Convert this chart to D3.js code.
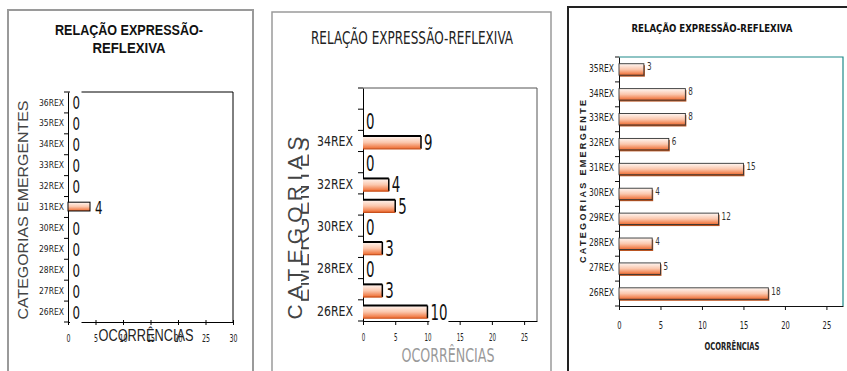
<!DOCTYPE html>
<html>
<head>
<meta charset="utf-8">
<script src="https://cdn.jsdelivr.net/npm/d3@7"></script>
<style>
  html, body { margin: 0; padding: 0; background: #fff; }
  svg { display: block; }
</style>
</head>
<body>
<svg id="chart" width="847" height="371"></svg>
<script>
// ---- data ----
const titleLinesA = ["RELAÇÃO EXPRESSÃO-", "REFLEXIVA"];
const titleText = "RELAÇÃO EXPRESSÃO-REFLEXIVA";
const xTitle = "OCORRÊNCIAS";
const yTitleA = "CATEGORIAS EMERGENTES";
const yTitleB = ["CATEGORIAS", "EMERGENTES"];
const yTitleC = "CATEGORIAS EMERGENTE";

const categoriesA = ["26REX","27REX","28REX","29REX","30REX","31REX","32REX","33REX","34REX","35REX","36REX"];
const valuesA     = [0, 0, 0, 0, 0, 4, 0, 0, 0, 0, 0];
const xTicksA     = [0, 5, 10, 15, 20, 25, 30];

const categoriesB = ["26REX","27REX","28REX","29REX","30REX","31REX","32REX","33REX","34REX","35REX","36REX"];
const valuesB     = [10, 3, 0, 3, 0, 5, 4, 0, 9, 0, null];
const yTickLabelsB = ["26REX","28REX","30REX","32REX","34REX"];
const xTicksB     = [0, 5, 10, 15, 20, 25];

const categoriesC = ["26REX","27REX","28REX","29REX","30REX","31REX","32REX","33REX","34REX","35REX"];
const valuesC     = [18, 5, 4, 12, 4, 15, 6, 8, 8, 3];
const xTicksC     = [0, 5, 10, 15, 20, 25];

// ---- shared styling ----
const SANS = "'Liberation Sans', Arial, sans-serif";
const NARROW = "'Liberation Sans Narrow', 'DejaVu Sans Condensed', 'Arial Narrow', sans-serif";

const svg = d3.select("#chart");
const defs = svg.append("defs");
const grad = defs.append("linearGradient").attr("id", "barFill")
  .attr("x1", 0).attr("y1", 0).attr("x2", 0).attr("y2", 1);
grad.append("stop").attr("offset", "0%").attr("stop-color", "#fff7f3");
grad.append("stop").attr("offset", "50%").attr("stop-color", "#fbc7ad");
grad.append("stop").attr("offset", "100%").attr("stop-color", "#ee6a2e");

function bandEdges(y, cats) {
  return cats.map(c => y(c)).concat([y(cats[0]) + y.bandwidth()]);
}
// squeeze a string to a given width per character
function narrow(sel, perChar) {
  sel.each(function () {
    const n = (this.textContent || "").length;
    if (n) d3.select(this).attr("textLength", n * perChar).attr("lengthAdjust", "spacingAndGlyphs");
  });
}

// ================= Panel A =================
(function () {
  const p = svg.append("g");
  p.append("rect").attr("x", 8).attr("y", 10).attr("width", 245).attr("height", 400)
    .attr("fill", "#fff").attr("stroke", "#9a9a9a").attr("stroke-width", 2);

  const x = d3.scaleLinear().domain([0, 30]).range([68, 233]);
  const y = d3.scaleBand().domain(categoriesA).range([322, 92]);
  const [x0, x1] = x.range();
  const [yb, yt] = y.range();

  // title, two lines
  const widthsA = [148, 73];
  titleLinesA.forEach((s, i) => p.append("text").attr("x", 129).attr("y", 35 + i * 18)
    .attr("text-anchor", "middle").attr("font-family", SANS).attr("font-weight", "bold")
    .attr("font-size", 14).attr("fill", "#111")
    .attr("textLength", widthsA[i]).attr("lengthAdjust", "spacingAndGlyphs").text(s));

  // plot frame (top + right)
  p.append("path").attr("d", `M${x0},${yt}H${x1}V${yb}`).attr("fill", "none").attr("stroke", "#000");

  // x axis
  const xa = p.append("g").attr("transform", `translate(0,${yb})`)
    .call(d3.axisBottom(x).tickValues(xTicksA).tickSize(3).tickSizeOuter(0));
  xa.select(".domain").attr("stroke", "#000");
  xa.selectAll(".tick line").attr("y1", -2).attr("stroke", "#000");
  xa.selectAll(".tick text").attr("y", 20).attr("dy", 0)
    .attr("font-family", NARROW).attr("font-size", 10).attr("fill", "#222").call(narrow, 4);

  // y axis
  const ya = p.append("g").attr("transform", `translate(${x0},0)`)
    .call(d3.axisLeft(y).tickSize(0).tickPadding(4).tickSizeOuter(0));
  ya.select(".domain").attr("stroke", "#000");
  ya.selectAll(".tick text").attr("font-family", NARROW).attr("font-size", 9.5)
    .attr("fill", "#222").attr("textLength", 25).attr("lengthAdjust", "spacingAndGlyphs");
  p.selectAll("line.bt").data(bandEdges(y, categoriesA)).join("line").attr("class", "bt")
    .attr("x1", x0 - 4).attr("x2", x0).attr("y1", d => d).attr("y2", d => d).attr("stroke", "#000");

  // bars
  const bw = y.bandwidth();
  categoriesA.forEach((c, i) => {
    const v = valuesA[i];
    if (v > 0) {
      p.append("rect").attr("x", x(0)).attr("y", y(c) + bw * 0.27)
        .attr("width", x(v) - x(0)).attr("height", bw * 0.42)
        .attr("fill", "url(#barFill)").attr("stroke", "#000").attr("stroke-width", 1);
    }
  });
  // value labels on white boxes
  categoriesA.forEach((c, i) => {
    const v = valuesA[i];
    const cy = y(c) + bw / 2;
    const lx = x(v) + (v > 0 ? 5 : 4.5);
    p.append("rect").attr("x", lx - 2.5).attr("y", cy - 12.5).attr("width", 11.5).attr("height", 25).attr("fill", "#fff");
    p.append("text").attr("x", lx).attr("y", cy + 7).attr("font-family", NARROW)
      .attr("font-size", 18).attr("fill", "#111").text(v).call(narrow, 7.5);
  });

  // axis titles
  p.append("text").attr("transform", `translate(28,${(yt + yb) / 2 + 3}) rotate(-90)`)
    .attr("text-anchor", "middle").attr("font-family", SANS).attr("font-size", 14)
    .attr("fill", "#444").attr("textLength", 219).attr("lengthAdjust", "spacingAndGlyphs").text(yTitleA);
  p.append("text").attr("x", 146).attr("y", 341).attr("text-anchor", "middle")
    .attr("font-family", SANS).attr("font-size", 16).attr("fill", "#222")
    .attr("textLength", 95).attr("lengthAdjust", "spacingAndGlyphs").text(xTitle);
})();

// ================= Panel B =================
(function () {
  const p = svg.append("g");
  p.append("rect").attr("x", 272).attr("y", 12).attr("width", 279).attr("height", 400)
    .attr("fill", "#fff").attr("stroke", "#9a9a9a").attr("stroke-width", 1.5);

  const x = d3.scaleLinear().domain([0, 27]).range([363, 537]);
  const y = d3.scaleBand().domain(categoriesB).range([321, 88]);
  const [x0, x1] = x.range();
  const [yb, yt] = y.range();

  // title
  p.append("text").attr("x", 412).attr("y", 44).attr("text-anchor", "middle")
    .attr("font-family", NARROW).attr("font-size", 17).attr("fill", "#222")
    .attr("textLength", 202).attr("lengthAdjust", "spacingAndGlyphs").text(titleText);

  // frame
  p.append("path").attr("d", `M${x0},${yt}H${x1}V${yb}`).attr("fill", "none").attr("stroke", "#555");

  // x axis
  const xa = p.append("g").attr("transform", `translate(0,${yb})`)
    .call(d3.axisBottom(x).tickValues(xTicksB).tickSize(4).tickSizeOuter(0));
  xa.select(".domain").attr("stroke", "#000");
  xa.selectAll(".tick line").attr("stroke", "#000");
  xa.selectAll(".tick text").attr("y", 20).attr("dy", 0)
    .attr("font-family", NARROW).attr("font-size", 10).attr("fill", "#222").call(narrow, 3.5);

  // y axis (every other category labelled)
  const ya = p.append("g").attr("transform", `translate(${x0},0)`)
    .call(d3.axisLeft(y).tickSize(0).tickPadding(10).tickSizeOuter(0)
      .tickFormat(d => yTickLabelsB.includes(d) ? d : ""));
  ya.select(".domain").attr("stroke", "#000");
  ya.selectAll(".tick text").attr("font-family", NARROW).attr("font-size", 14)
    .attr("fill", "#222").attr("dy", "0.38em");
  ya.selectAll(".tick text").filter(d => yTickLabelsB.includes(d))
    .attr("textLength", 36).attr("lengthAdjust", "spacingAndGlyphs");
  p.selectAll("line.bt").data(bandEdges(y, categoriesB)).join("line").attr("class", "bt")
    .attr("x1", x0 - 5).attr("x2", x0).attr("y1", d => d).attr("y2", d => d).attr("stroke", "#000");

  // bars
  const bw = y.bandwidth();
  categoriesB.forEach((c, i) => {
    const v = valuesB[i];
    if (v > 0) {
      const by = y(c) + bw * 0.27, bh = bw * 0.6, w = x(v) - x(0);
      p.append("rect").attr("x", x(0)).attr("y", by).attr("width", w).attr("height", bh)
        .attr("fill", "url(#barFill)");
      p.append("line").attr("x1", x(0)).attr("x2", x(v)).attr("y1", by).attr("y2", by)
        .attr("stroke", "#000").attr("stroke-width", 2);
      p.append("line").attr("x1", x(v)).attr("x2", x(v)).attr("y1", by).attr("y2", by + bh)
        .attr("stroke", "#000").attr("stroke-width", 1.5);
      p.append("line").attr("x1", x(0)).attr("x2", x(v)).attr("y1", by + bh).attr("y2", by + bh)
        .attr("stroke", "#c8501c").attr("stroke-width", 1.2);
    }
  });
  categoriesB.forEach((c, i) => {
    const v = valuesB[i];
    if (v === null) return;
    const lx = x(v) + 3, base = y(c) + bw - 1.5;
    const lbl = p.append("text").attr("x", lx).attr("y", base).attr("font-family", NARROW)
      .attr("font-size", 21).attr("fill", "#111").text(v).call(narrow, 8.5);
    const bb = lbl.node().getBBox();
    p.insert("rect", () => lbl.node()).attr("x", bb.x - 1).attr("y", bb.y + 2)
      .attr("width", bb.width + 2).attr("height", bb.height - 2).attr("fill", "#fff");
  });

  // two stacked vertical axis-title words drawn on top of each other
  const yc = 228;
  p.append("text").attr("transform", `translate(302,${yc}) rotate(-90)`)
    .attr("text-anchor", "middle").attr("font-family", SANS).attr("font-size", 21)
    .attr("fill", "#444").attr("textLength", 183).attr("lengthAdjust", "spacing").text(yTitleB[0]);
  defs.append("clipPath").attr("id", "clipB").append("rect")
    .attr("x", 301).attr("y", 120).attr("width", 8).attr("height", 200);
  p.append("g").attr("clip-path", "url(#clipB)")
    .append("text").attr("transform", `translate(309,${yc - 8}) rotate(-90)`)
    .attr("text-anchor", "middle").attr("font-family", SANS).attr("font-size", 21)
    .attr("fill", "#444").attr("textLength", 165).attr("lengthAdjust", "spacing").text(yTitleB[1]);

  p.append("text").attr("x", 448).attr("y", 362).attr("text-anchor", "middle")
    .attr("font-family", NARROW).attr("font-size", 20).attr("fill", "#9a9a9a")
    .attr("textLength", 93).attr("lengthAdjust", "spacingAndGlyphs").text(xTitle);
})();

// ================= Panel C =================
(function () {
  const p = svg.append("g");
  p.append("rect").attr("x", 568).attr("y", 7).attr("width", 300).attr("height", 400)
    .attr("fill", "#fff").attr("stroke", "#222").attr("stroke-width", 2);

  const x = d3.scaleLinear().domain([0, 27]).range([619, 843]);
  const y = d3.scaleBand().domain(categoriesC).range([306, 57]);
  const [x0, x1] = x.range();
  const [yb, yt] = y.range();

  p.append("text").attr("x", 712).attr("y", 32).attr("text-anchor", "middle")
    .attr("font-family", NARROW).attr("font-weight", "bold").attr("font-size", 11)
    .attr("fill", "#111").attr("textLength", 161).attr("lengthAdjust", "spacingAndGlyphs").text(titleText);

  // frame (teal top + right)
  p.append("path").attr("d", `M${x0},${yt}H${x1}V${yb}`).attr("fill", "none")
    .attr("stroke", "#1f8a8a").attr("stroke-width", 1.2);

  const xa = p.append("g").attr("transform", `translate(0,${yb})`)
    .call(d3.axisBottom(x).tickValues(xTicksC).tickSize(4).tickSizeOuter(0));
  xa.select(".domain").attr("stroke", "#111");
  xa.selectAll(".tick line").attr("stroke", "#111");
  xa.selectAll(".tick text").attr("y", 23).attr("dy", 0)
    .attr("font-family", NARROW).attr("font-size", 11).attr("fill", "#222").call(narrow, 4.3);

  const ya = p.append("g").attr("transform", `translate(${x0},0)`)
    .call(d3.axisLeft(y).tickSize(0).tickPadding(5).tickSizeOuter(0));
  ya.select(".domain").attr("stroke", "#111");
  ya.selectAll(".tick text").attr("font-family", NARROW).attr("font-size", 11)
    .attr("fill", "#222").attr("dy", "0.2em").attr("textLength", 25).attr("lengthAdjust", "spacingAndGlyphs");
  p.selectAll("line.bt").data(bandEdges(y, categoriesC)).join("line").attr("class", "bt")
    .attr("x1", x0 - 4).attr("x2", x0).attr("y1", d => d).attr("y2", d => d).attr("stroke", "#111");

  const bw = y.bandwidth();
  categoriesC.forEach((c, i) => {
    const v = valuesC[i];
    const bh = bw * 0.46, by = y(c) + (bw - bh) / 2, w = x(v) - x(0);
    p.append("rect").attr("x", x(0) + 1).attr("y", by + 1.5).attr("width", w).attr("height", bh)
      .attr("fill", "#b9531f");
    p.append("rect").attr("x", x(0)).attr("y", by).attr("width", w).attr("height", bh)
      .attr("fill", "url(#barFill)").attr("stroke", "#333").attr("stroke-width", 0.9);
    p.append("text").attr("x", x(v) + 3).attr("y", by + bh / 2 + 1).attr("font-family", NARROW)
      .attr("font-size", 11).attr("fill", "#333").text(v).call(narrow, 4.6);
  });

  p.append("text").attr("transform", `translate(586,${(yt + yb) / 2}) rotate(-90)`)
    .attr("text-anchor", "middle").attr("font-family", SANS).attr("font-weight", "bold")
    .attr("font-size", 9).attr("fill", "#222").attr("textLength", 163)
    .attr("lengthAdjust", "spacing").text(yTitleC);
  p.append("text").attr("x", 732).attr("y", 350).attr("text-anchor", "middle")
    .attr("font-family", NARROW).attr("font-weight", "bold").attr("font-size", 11)
    .attr("fill", "#222").attr("textLength", 55).attr("lengthAdjust", "spacingAndGlyphs").text(xTitle);
})();
</script>
</body>
</html>
